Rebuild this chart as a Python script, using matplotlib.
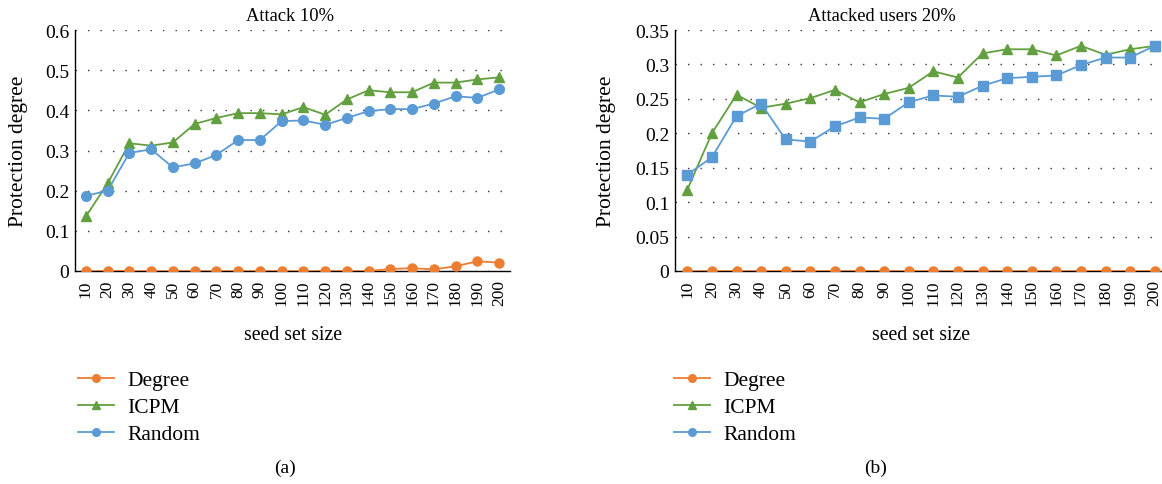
import matplotlib
matplotlib.use("Agg")
import matplotlib.pyplot as plt
from matplotlib.lines import Line2D

plt.rcParams['font.family'] = ['Liberation Serif', 'DejaVu Serif']

seed_sizes = [10, 20, 30, 40, 50, 60, 70, 80, 90, 100,
              110, 120, 130, 140, 150, 160, 170, 180, 190, 200]

# Panel (a): Attack 10%
a_degree = [0, 0, 0, 0, 0, 0, 0, 0, 0, 0,
            0, 0, 0, 0, 0.005, 0.007, 0.004, 0.012, 0.024, 0.021]
a_icpm = [0.136, 0.218, 0.318, 0.312, 0.320, 0.366, 0.381, 0.393, 0.393, 0.390,
          0.408, 0.389, 0.427, 0.450, 0.445, 0.445, 0.469, 0.469, 0.477, 0.482]
a_random = [0.187, 0.200, 0.294, 0.303, 0.258, 0.268, 0.289, 0.326, 0.326, 0.373,
            0.375, 0.364, 0.381, 0.398, 0.403, 0.403, 0.417, 0.435, 0.431, 0.452]

# Panel (b): Attacked users 20%
b_degree = [0] * 20
b_icpm = [0.118, 0.200, 0.256, 0.237, 0.243, 0.251, 0.263, 0.245, 0.257, 0.266,
          0.290, 0.281, 0.316, 0.322, 0.322, 0.313, 0.327, 0.314, 0.322, 0.327]
b_random = [0.140, 0.165, 0.225, 0.243, 0.191, 0.188, 0.210, 0.223, 0.221, 0.245,
            0.255, 0.253, 0.269, 0.280, 0.282, 0.284, 0.299, 0.310, 0.310, 0.327]

titles = ["Attack 10%", "Attacked users 20%"]
captions = ["(a)", "(b)"]
series_names = ["Degree", "ICPM", "Random"]

C_ORANGE = '#ED7D31'
C_GREEN = '#62A03F'
C_BLUE = '#5B9BD5'

W, H = 1162, 485
fig = plt.figure(figsize=(W / 100, H / 100), dpi=100)

def px_axes(x0, x1, ytop, ybot):
    return [x0 / W, 1 - ybot / H, (x1 - x0) / W, (ybot - ytop) / H]

ax_a = fig.add_axes(px_axes(75, 510, 31, 272))
ax_b = fig.add_axes(px_axes(675, 1167, 31, 272))

idx = list(range(len(seed_sizes)))

def style_axes(ax, ylim, yticks, yticklabels, title, ylab_x, title_x):
    ax.set_xlim(-0.5, len(seed_sizes) - 0.5)
    ax.set_ylim(*ylim)
    ax.set_yticks(yticks)
    ax.set_yticklabels(yticklabels, fontsize=14)
    ax.set_xticks(idx)
    ax.set_xticklabels([str(s) for s in seed_sizes], rotation=90, fontsize=12.5)
    ax.tick_params(axis='both', length=0, pad=4)
    ax.tick_params(axis='x', pad=6)
    for s in ['top', 'right']:
        ax.spines[s].set_visible(False)
    for s in ['left', 'bottom']:
        ax.spines[s].set_color('black')
        ax.spines[s].set_linewidth(1.0)
    ax.yaxis.grid(True, linestyle=(0, (1, 8)), color='#333333', linewidth=1.0)
    ax.set_axisbelow(True)
    ax.set_title(title, fontsize=13.3, pad=7)
    ax.title.set_x(title_x)
    ax.set_ylabel("Protection degree", fontsize=15.5)
    ax.yaxis.set_label_coords(ylab_x, 0.5)
    ax.set_xlabel("seed set size", fontsize=14.2)
    ax.xaxis.set_label_coords(0.5, -0.225)
    ax.xaxis.label.set_va('top')

# Panel a
ax_a.plot(idx, a_degree, color=C_ORANGE, marker='o', markersize=6.5, linewidth=1.3, zorder=3)
ax_a.plot(idx, a_icpm, color=C_GREEN, marker='^', markersize=7, linewidth=1.3, zorder=4)
ax_a.plot(idx, a_random, color=C_BLUE, marker='o', markersize=7, linewidth=1.3, zorder=4)
style_axes(ax_a, (0, 0.6), [0, 0.1, 0.2, 0.3, 0.4, 0.5, 0.6],
           ['0', '0.1', '0.2', '0.3', '0.4', '0.5', '0.6'], titles[0], -0.107, 0.495)

# Panel b
ax_b.plot(idx, b_degree, color=C_ORANGE, marker='o', markersize=6.5, linewidth=1.3, zorder=3)
ax_b.plot(idx, b_icpm, color=C_GREEN, marker='^', markersize=7, linewidth=1.3, zorder=4)
ax_b.plot(idx, b_random, color=C_BLUE, marker='s', markersize=7, linewidth=1.3, zorder=4)
style_axes(ax_b, (0, 0.35), [0, 0.05, 0.1, 0.15, 0.2, 0.25, 0.3, 0.35],
           ['0', '0.05', '0.1', '0.15', '0.2', '0.25', '0.3', '0.35'], titles[1], -0.12, 0.42)

# Legends
handles = [
    Line2D([], [], color=C_ORANGE, marker='o', markersize=5.5, linewidth=1.3),
    Line2D([], [], color=C_GREEN, marker='^', markersize=5.5, linewidth=1.3),
    Line2D([], [], color=C_BLUE, marker='o', markersize=5.5, linewidth=1.3),
]
for lx in (78, 674):
    fig.legend(handles, series_names, loc='upper left',
               bbox_to_anchor=(lx / W, 1 - 371 / H), frameon=False,
               fontsize=15.5, handlelength=1.65, handletextpad=0.65,
               labelspacing=0.33, borderaxespad=0, borderpad=0)

# Captions
fig.text(285 / W, 1 - 468 / H, captions[0], ha='center', va='center', fontsize=14)
fig.text(876 / W, 1 - 468 / H, captions[1], ha='center', va='center', fontsize=14)

fig.savefig("out.png", dpi=100)
